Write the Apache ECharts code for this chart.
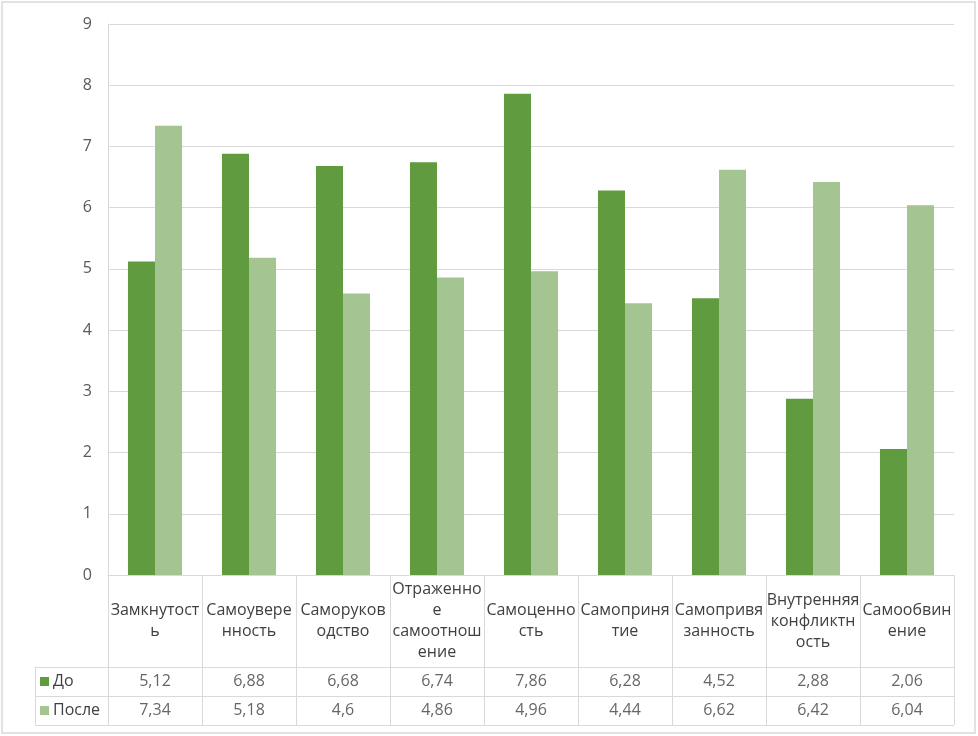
<!DOCTYPE html>
<html>
<head>
<meta charset="utf-8">
<script src="https://cdn.jsdelivr.net/npm/echarts@6/dist/echarts.min.js"></script>
<style>
html,body{margin:0;padding:0;background:#fff;}
#chart{width:978px;height:736px;}
</style>
</head>
<body>
<div id="chart"></div>
<script>
const categories = ['Замкнутость','Самоуверенность','Саморуководство','Отраженное самоотношение','Самоценность','Самопринятие','Самопривязанность','Внутренняя конфликтность','Самообвинение'];
const seriesNames = ['До','После'];
const valuesDo = [5.12, 6.88, 6.68, 6.74, 7.86, 6.28, 4.52, 2.88, 2.06];
const valuesPosle = [7.34, 5.18, 4.6, 4.86, 4.96, 4.44, 6.62, 6.42, 6.04];
const yTicks = [0,1,2,3,4,5,6,7,8,9];

const colors = ['#619b40', '#a4c592'];
const FONT = 'Open Sans';
const FS = 16;
const grid = '#d9d9d9';
const fmt = v => String(v).replace('.', ',');

// word-aware wrap, breaking long words by characters (like Excel's data table)
const ctx = document.createElement('canvas').getContext('2d');
ctx.font = FS + 'px "' + FONT + '"';
const WRAP = 93;
function wrap(text) {
  const lines = [];
  text.split(' ').forEach(word => {
    let cur = '';
    for (const ch of word) {
      if (cur && ctx.measureText(cur + ch).width > WRAP) { lines.push(cur); cur = ch; }
      else cur += ch;
    }
    if (cur) lines.push(cur);
  });
  return lines.join('\n');
}

const tableData = [];
categories.forEach((c, i) => {
  tableData.push([c, seriesNames[0], valuesDo[i]]);
  tableData.push([c, seriesNames[1], valuesPosle[i]]);
});

const chart = echarts.init(document.getElementById('chart'));
chart.setOption({
  animation: false,
  textStyle: {fontFamily: FONT},
  grid: [
    {left: 108, right: 24, top: 24, bottom: 161},
    {left: 108, right: 24, top: 667, bottom: 11}
  ],
  xAxis: [
    {
      type: 'category', gridIndex: 0, data: categories,
      axisLine: {show: true, lineStyle: {color: grid, width: 1}},
      axisTick: {show: true, length: 150, lineStyle: {color: grid}},
      axisLabel: {
        interval: 0, verticalAlign: 'middle', formatter: v => wrap(v),
        margin: 46, lineHeight: 21, fontSize: FS, color: '#404040', fontFamily: FONT
      },
      splitLine: {show: false}
    },
    {
      type: 'category', gridIndex: 1, data: categories, position: 'top',
      axisLine: {show: true, lineStyle: {color: grid}},
      axisTick: {show: false}, axisLabel: {show: false}, splitLine: {show: false}
    }
  ],
  yAxis: [
    {
      type: 'value', gridIndex: 0, min: 0, max: 9, interval: 1,
      axisLine: {show: true, lineStyle: {color: grid}},
      axisTick: {show: false},
      splitLine: {show: true, lineStyle: {color: grid, width: 1}},
      axisLabel: {fontSize: FS, color: '#595959', margin: 16, fontFamily: FONT,
        formatter: v => yTicks.includes(v) ? String(v) : ''}
    },
    {
      type: 'category', gridIndex: 1, data: seriesNames, inverse: true,
      axisLine: {show: true, lineStyle: {color: grid}},
      axisTick: {show: true, length: 73, lineStyle: {color: grid}},
      splitLine: {show: true, lineStyle: {color: grid}},
      axisLabel: {
        align: 'left', margin: 68, fontSize: FS, color: '#404040', fontFamily: FONT,
        formatter: (v, i) => '{s' + i + '|}{t|' + v + '}',
        rich: {
          s0: {width: 9, height: 9, backgroundColor: colors[0]},
          s1: {width: 9, height: 9, backgroundColor: colors[1]},
          t: {fontSize: FS, color: '#404040', padding: [0, 0, 0, 4], fontFamily: FONT}
        }
      }
    },
    {
      type: 'category', gridIndex: 1, data: seriesNames, inverse: true, position: 'left', offset: 73,
      axisLine: {show: true, lineStyle: {color: grid}},
      axisTick: {show: false}, axisLabel: {show: false}, splitLine: {show: false}
    }
  ],
  series: [
    {
      name: seriesNames[0], type: 'bar', xAxisIndex: 0, yAxisIndex: 0,
      data: valuesDo, itemStyle: {color: colors[0]},
      barGap: '0%', barCategoryGap: '42.5%'
    },
    {
      name: seriesNames[1], type: 'bar', xAxisIndex: 0, yAxisIndex: 0,
      data: valuesPosle, itemStyle: {color: colors[1]},
      barGap: '0%', barCategoryGap: '42.5%'
    },
    {
      type: 'scatter', xAxisIndex: 1, yAxisIndex: 1, data: tableData,
      symbolSize: 1, itemStyle: {color: 'rgba(0,0,0,0)'}, silent: true,
      label: {
        show: true, position: 'inside', fontSize: FS, color: '#404040', fontFamily: FONT,
        formatter: p => fmt(p.value[2])
      }
    }
  ],
  graphic: [{
    type: 'rect', silent: true, z: -1,
    shape: {x: 2, y: 2, width: 973, height: 731},
    style: {fill: 'none', stroke: grid, lineWidth: 1.5}
  }]
});
</script>
</body>
</html>
